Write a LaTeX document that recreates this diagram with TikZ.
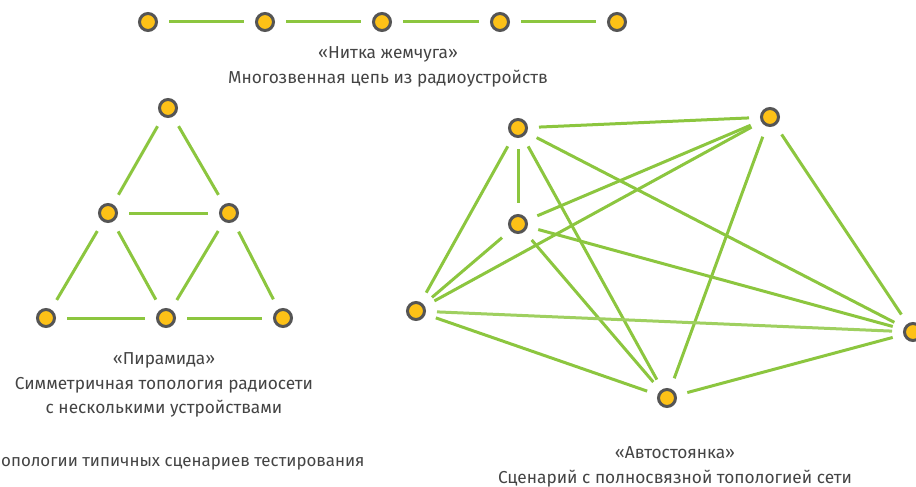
\documentclass[tikz,border=0pt]{standalone}
\usepackage{fontspec}
\setmainfont{Fira Sans}
\definecolor{linkgreen}{HTML}{8CC63F}
\definecolor{lightgreen}{HTML}{9FD060}
\definecolor{nodeyellow}{HTML}{FDC117}
\definecolor{nodegray}{HTML}{555555}
\definecolor{textgray}{HTML}{444444}

\begin{document}
\begin{tikzpicture}[x=1pt,y=-1pt]
    \useasboundingbox (0,0) rectangle (916,487);

    \begin{scope}[every node/.style={circle,draw=nodegray,fill=nodeyellow,line width=3pt,minimum size=17pt,inner sep=0pt}]
        % Chain %
        \node (c1) at (148,22) {};
        \node (c2) at (265,22) {};
        \node (c3) at (382,22) {};
        \node (c4) at (500,22) {};
        \node (c5) at (617,22) {};
        % Pyramid %
        \node (p1) at (168,108) {};
        \node (p2) at (108,213) {};
        \node (p3) at (229,213) {};
        \node (p4) at (46,318) {};
        \node (p5) at (166,318) {};
        \node (p6) at (283,318) {};
        % Parking, full mesh %
        \node (m1) at (518,128) {};
        \node (m2) at (770,117) {};
        \node (m3) at (518,224) {};
        \node (m4) at (416,311) {};
        \node (m5) at (913,332) {};
        \node (m6) at (667,398) {};
    \end{scope}

    \begin{scope}[every edge/.style={draw=linkgreen,line width=3pt,shorten >=11pt,shorten <=11pt}]
        % Chain links %
        \path (c1) edge (c2);
        \path (c2) edge (c3);
        \path (c3) edge (c4);
        \path (c4) edge (c5);
        % Pyramid links %
        \path (p1) edge (p2);
        \path (p1) edge (p3);
        \path (p2) edge (p3);
        \path (p2) edge (p4);
        \path (p2) edge (p5);
        \path (p3) edge (p5);
        \path (p3) edge (p6);
        \path (p4) edge (p5);
        \path (p5) edge (p6);
        % Mesh links %
        \path (m1) edge (m2);
        \path (m1) edge (m3);
        \path (m1) edge (m4);
        \path (m1) edge (m5);
        \path (m1) edge (m6);
        \path (m2) edge (m3);
        \path (m2) edge (m4);
        \path (m2) edge (m5);
        \path (m2) edge (m6);
        \path (m3) edge (m4);
        \path (m3) edge (m5);
        \path (m3) edge (m6);
        \path (m4) edge [draw=lightgreen] (m5);
        \path (m4) edge (m6);
        \path (m6) edge (m5);
    \end{scope}

    \begin{scope}[every node/.style={text=textgray,font=\fontsize{17.3}{24.5}\selectfont,align=center}]
        \node (chaintxt) at (388,67) {«Нитка жемчуга»\\Многозвенная цепь из радиоустройств};
        \node (pyrtxt) at (164,385) {«Пирамида»\\Симметричная топология радиосети\\с несколькими устройствами};
        \node[anchor=west,inner sep=1pt,font=\fontsize{16.9}{24.5}\selectfont] (captxt) at (0,464) {опологии типичных сценариев тестирования};
        \node (meshtxt) at (675,467) {«Автостоянка»\\Сценарий с полносвязной топологией сети};
    \end{scope}

\end{tikzpicture}
\end{document}
